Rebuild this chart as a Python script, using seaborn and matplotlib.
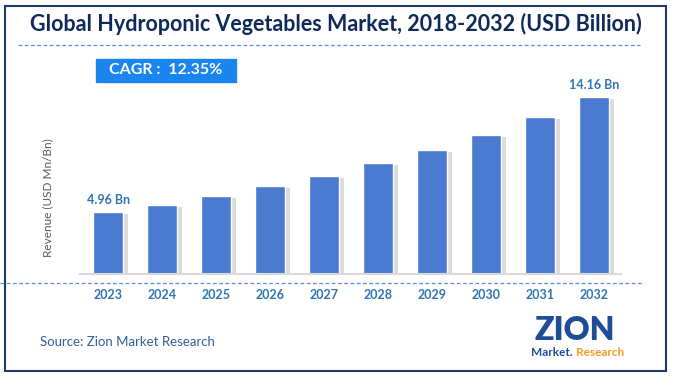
import matplotlib
matplotlib.use("Agg")
import matplotlib.pyplot as plt
import matplotlib.patheffects as pe
from matplotlib.patches import Rectangle
from matplotlib.lines import Line2D
import seaborn as sns
import pandas as pd

years = ["2023", "2024", "2025", "2026", "2027", "2028", "2029", "2030", "2031", "2032"]
revenue = [4.96, 5.55, 6.25, 7.03, 7.88, 8.85, 9.92, 11.15, 12.55, 14.16]
labelled = {0: "4.96 Bn", 9: "14.16 Bn"}

title = "Global Hydroponic Vegetables Market, 2018-2032 (USD Billion)"
cagr_text = "CAGR :  12.35%"
source_text = "Source: Zion Market Research"

W, H = 674, 377
sns.set_style("white")
plt.rcParams['font.family'] = ['Lato', 'DejaVu Sans']

fig = plt.figure(figsize=(W / 100, H / 100), dpi=100)


def fx(px):
    return px / W


def fy(py):
    return 1 - py / H


ax = fig.add_axes([fx(80), fy(274), fx(541), 200 / H])
df = pd.DataFrame({"year": years, "revenue": revenue})
sns.barplot(data=df, x="year", y="revenue", color="#4a7bd1", saturation=1,
            width=0.57, ax=ax)
for bar in ax.patches:
    bar.set_path_effects([pe.SimplePatchShadow(offset=(3.5, -1.5), shadow_rgbFace="#9a9a9a", alpha=0.35),
                          pe.Normal()])
ax.set_xlim(-0.52, 9.5)
ax.set_ylim(0, 16)
for i, txt in labelled.items():
    ax.text(i, revenue[i] + 0.5, txt, ha="center", va="bottom", fontsize=9,
            fontweight="bold", color="#2e75b6")

sns.despine(ax=ax, left=True)
ax.spines["bottom"].set_color("#d9d9d9")
ax.spines["bottom"].set_linewidth(1.5)
ax.set_yticks([])
ax.set_xlabel("")
ax.set_ylabel("")
ax.tick_params(axis="x", length=0, pad=11, labelsize=9, labelcolor="#2e75b6")
for t in ax.get_xticklabels():
    t.set_fontweight("bold")

# y label
fig.text(fx(48), fy(198), "Revenue (USD Mn/Bn)", rotation=90, ha="center", va="center",
         fontsize=8.5, color="#595959")

# title and decorations
fig.text(fx(336), fy(24), title, ha="center", va="center", fontsize=15.5,
         fontweight="bold", color="#0e2a5a")
fig.add_artist(Line2D([fx(18), fx(640)], [fy(45), fy(45)], color="#5b8fd6",
                      lw=0.9, linestyle=(0, (3, 2))))
fig.add_artist(Line2D([fx(0), fx(644)], [fy(283), fy(283)], color="#5b8fd6",
                      lw=0.9, linestyle=(0, (3, 2))))

# CAGR box
fig.add_artist(Rectangle((fx(96), fy(82)), fx(140), 23 / H, color="#1a85ef"))
fig.text(fx(166), fy(70.5), cagr_text, ha="center", va="center", fontsize=11.5,
         fontweight="bold", color="white")

# source
fig.text(fx(40), fy(342), source_text, ha="left", va="center", fontsize=9.5,
         color="#2f5f96")

# logo
fig.text(fx(575), fy(330), "ZION", ha="center", va="center", fontsize=23,
         fontweight="heavy", color="#1f4e99")
fig.text(fx(552), fy(353), "Market.", ha="center", va="center", fontsize=8.5,
         fontweight="bold", color="#1f4e99")
fig.text(fx(600), fy(353), "Research", ha="center", va="center", fontsize=8.5,
         fontweight="bold", color="#f39c1f")

# frame
fig.add_artist(Rectangle((fx(5), fy(371)), fx(661), 365 / H, fill=False,
                         edgecolor="#1f3864", lw=1.5))

fig.savefig("out.png", dpi=100)
